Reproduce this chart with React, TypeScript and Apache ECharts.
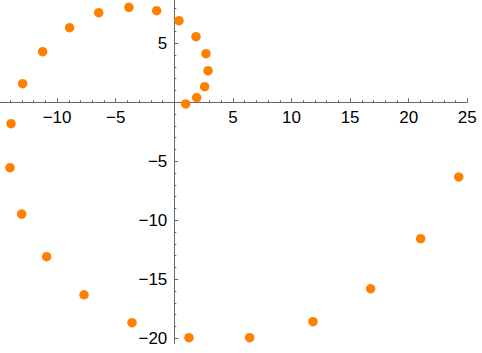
import React, { useEffect, useRef } from "react";
import * as echarts from "echarts";

const xValues = [0.97, 1.91, 2.59, 2.88, 2.7, 1.85, 0.4, -1.5, -3.87, -6.45, -8.93, -11.23, -12.94, -13.93, -14.02, -13.02, -10.89, -7.7, -3.61, 1.25, 6.43, 11.83, 16.75, 21.02, 24.27];
const yValues = [-0.14, 0.39, 1.32, 2.68, 4.12, 5.56, 6.92, 7.76, 8.05, 7.59, 6.32, 4.29, 1.58, -1.81, -5.54, -9.47, -13.08, -16.31, -18.68, -19.95, -19.95, -18.59, -15.8, -11.56, -6.33];

const xRange = [-15, 25];
const yRange = [-25, 10];
const tickStep = 5;

const fmt = (v: number) => (v === 0 ? "" : String(v).replace("-", "\u2212"));

// layout (pixels)
const W = 482;
const H = 353;
const gridLeft = -1.5;
const gridRight = 14.7;
const gridTop = -15.7;
const gridBottom = -44.3;
const axisEndY = 344; // where the visible vertical axis stops

export default function App() {
  const ref = useRef<HTMLDivElement>(null);
  useEffect(() => {
    if (!ref.current) return;
    const chart = echarts.init(ref.current, undefined, { renderer: "svg" });
    const axisColor = "#666666";
    const plotW = W - gridLeft - gridRight;
    const plotH = H - gridTop - gridBottom;
    const zeroX = ((0 - xRange[0]) / (xRange[1] - xRange[0])) * plotW; // from grid left
    const zeroY = ((yRange[1] - 0) / (yRange[1] - yRange[0])) * plotH; // from grid top
    const labelStyle = {
      color: "#000000",
      fontSize: 17,
      fontFamily: "Liberation Sans, Arial, sans-serif",
      formatter: fmt,
    };
    chart.setOption({
      animation: false,
      grid: {
        left: gridLeft,
        right: gridRight,
        top: gridTop,
        bottom: gridBottom,
        containLabel: false,
        outerBoundsMode: "none",
      },
      graphic: [
        {
          type: "rect",
          z: 100,
          shape: { x: gridLeft + zeroX - 5, y: axisEndY, width: 10, height: H - axisEndY },
          style: { fill: "#ffffff" },
          silent: true,
        },
      ],
      xAxis: {
        type: "value",
        position: "bottom",
        offset: -(plotH - zeroY),
        min: xRange[0],
        max: xRange[1],
        interval: tickStep,
        axisLine: { onZero: false, lineStyle: { color: axisColor, width: 1 } },
        axisTick: { inside: true, length: 4, lineStyle: { color: axisColor } },
        minorTick: { show: true, splitNumber: 5, length: 2, lineStyle: { color: axisColor } },
        axisLabel: { ...labelStyle, showMinLabel: false, showMaxLabel: true, margin: 7 },
        splitLine: { show: false },
        minorSplitLine: { show: false },
      },
      yAxis: {
        type: "value",
        position: "left",
        offset: -zeroX,
        min: yRange[0],
        max: yRange[1],
        interval: tickStep,
        axisLine: { onZero: false, lineStyle: { color: axisColor, width: 1 } },
        axisTick: { inside: true, length: 4, lineStyle: { color: axisColor } },
        minorTick: { show: true, splitNumber: 5, length: 2, lineStyle: { color: axisColor } },
        axisLabel: { ...labelStyle, showMinLabel: false, showMaxLabel: false, margin: 7 },
        splitLine: { show: false },
        minorSplitLine: { show: false },
      },
      series: [
        {
          type: "scatter",
          data: xValues.map((x, i) => [x, yValues[i]]),
          symbol: "circle",
          symbolSize: 9.5,
          itemStyle: { color: "#ff8000", opacity: 1 },
          clip: false,
        },
      ],
    });
    return () => chart.dispose();
  }, []);
  return (
    <div
      ref={ref}
      style={{ position: "absolute", left: 0, top: 0, width: W, height: H, overflow: "hidden" }}
    />
  );
}
